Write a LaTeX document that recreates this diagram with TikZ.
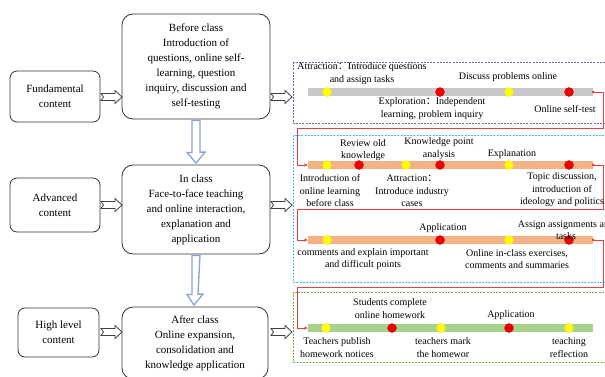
\documentclass[tikz,border=0pt]{standalone}
\usepackage{fontspec}
\setmainfont{Liberation Serif}
\newfontfamily\cjk{Noto Sans CJK SC}
\usetikzlibrary{arrows.meta,calc}
\definecolor{barGray}{HTML}{C8C8C8}
\definecolor{barOrange}{HTML}{F4B183}
\definecolor{barGreen}{HTML}{A9D18E}
\definecolor{dotYellow}{HTML}{FFFF00}
\definecolor{dotRed}{HTML}{F00000}
\definecolor{lineRed}{HTML}{E04040}
\definecolor{boxPurple}{HTML}{7F5FB0}
\definecolor{boxBlue}{HTML}{40B8E8}
\definecolor{boxGreen}{HTML}{70AD47}
\definecolor{downBlue}{HTML}{8EA2D0}
\newcommand{\fc}{{\cjk ：}}
\begin{document}
\begin{tikzpicture}[x=1pt,y=-1pt,
  lbox/.style={draw=black!80, line width=0.8pt, rounded corners=7pt, align=center,
    font=\fontsize{11}{15}\selectfont, inner sep=0pt},
  mbox/.style={draw=black!80, line width=0.8pt, rounded corners=11pt, align=center,
    font=\fontsize{11}{15}\selectfont, inner sep=0pt},
  dbox/.style={draw=#1, line width=0.7pt, dash pattern=on 2pt off 1.2pt},
  bar/.style={fill=#1, draw=none, minimum width=285pt, minimum height=8pt, inner sep=0pt},
  ydot/.style={circle, fill=dotYellow, draw=dotYellow!85!orange, line width=0.3pt, minimum size=9pt, inner sep=0pt},
  rdot/.style={circle, fill=dotRed, draw=dotRed!85!black, line width=0.3pt, minimum size=9pt, inner sep=0pt},
  edot/.style={circle, fill=lineRed, minimum size=3pt, inner sep=0pt},
  redline/.style={draw=lineRed, line width=0.8pt},
  lbl/.style={align=center, font=\fontsize{10}{12.5}\selectfont, inner sep=0pt},
  harrow/.pic={\draw[draw=black!75, fill=white, line width=0.8pt]
     (0,-3.5) -- (14,-3.5) -- (14,-6.5) -- (21,0) -- (14,6.5) -- (14,3.5) -- (0,3.5) -- (2.5,0) -- cycle;}
]
\useasboundingbox (0,0) rectangle (605,376);

% left boxes
\node[lbox, minimum width=90pt, minimum height=51pt] (fund) at (55,96.5) {Fundamental\\content};
\node[lbox, minimum width=90pt, minimum height=54pt] (adv) at (55,205) {Advanced\\content};
\node[lbox, minimum width=81pt, minimum height=49pt] (high) at (58.5,332.5) {High level\\content};

% middle boxes
\node[mbox, minimum width=148pt, minimum height=105pt] (before) at (196,66.5)
  {Before class\\Introduction of\\questions, online self-\\learning, question\\inquiry, discussion and\\self-testing};
\node[mbox, minimum width=148pt, minimum height=89pt] (inclass) at (196,209.5)
  {In class\\Face-to-face teaching\\and online interaction,\\explanation and\\application};
\node[mbox, minimum width=146pt, minimum height=72pt] (after) at (195,343)
  {After class\\Online expansion,\\consolidation and\\knowledge application};

% hollow arrows
\pic at (101,97) {harrow};
\pic at (101,205) {harrow};
\pic at (101,332) {harrow};
\pic at (271,97) {harrow};
\pic at (271,205) {harrow};
\pic at (271,332) {harrow};

% down arrows
\draw[draw=downBlue, fill=white, line width=1.3pt]
  ($(before.south)+(-4,1)$) -- ++(0,32) -- ++(-5,0) -- ($(inclass.north)+(0,-1.5)$)
  -- ++(9,-11) -- ++(-5,0) -- ($(before.south)+(4,1)$) -- cycle;
\draw[draw=downBlue, fill=white, line width=1.3pt]
  ($(inclass.south)+(-4,1)$) -- ++(0,39) -- ++(-5,0) -- ($(after.north)+(-1,-1.5)$)
  -- ++(9,-11) -- ++(-5,0) -- ($(inclass.south)+(4,1)$) -- cycle;

% dashed frames
\draw[dbox=boxPurple] (293,62) rectangle (612,123);
\draw[dbox=boxBlue] (293,135) rectangle (612,282);
\draw[dbox=boxGreen] (293,292) rectangle (612,362);

% bars
\node[bar=barGray] (b1) at (450.5,92) {};
\node[bar=barOrange] (b2) at (450.5,165) {};
\node[bar=barOrange] (b3) at (450.5,240) {};
\node[bar=barGreen] (b4) at (450.5,328) {};

% red connectors
\coordinate (t1) at (603,128); \coordinate (u1) at (297,128);
\coordinate (t2) at (603,209); \coordinate (u2) at (297,209);
\coordinate (t3) at (603,287); \coordinate (u3) at (297,287);
\draw[redline, -{Stealth[length=4pt,width=3.5pt]}] (b1.east) -| (t1) -- (u1) |- (b2.west);
\draw[redline, -{Stealth[length=4pt,width=3.5pt]}] (b2.east) -| (t2) -- (u2) |- (b3.west);
\draw[redline, -{Stealth[length=4pt,width=3.5pt]}] (b3.east) -| (t3) -- (u3) |- (b4.west);
\node[edot] (e1) at (b1.east) {};
\node[edot] (e2) at (b2.east) {};
\node[edot] (e3) at (b3.east) {};

% dots bar 1
\node[ydot] (d11) at (327,92) {};
\node[rdot] (d12) at (440,92) {};
\node[ydot] (d13) at (509,92) {};
\node[rdot] (d14) at (569,92) {};
% dots bar 2
\node[ydot] (d21) at (327,165) {};
\node[rdot] (d22) at (359,165) {};
\node[ydot] (d23) at (406,165) {};
\node[rdot] (d24) at (440,165) {};
\node[ydot] (d25) at (509,165) {};
\node[rdot] (d26) at (569,165) {};
% dots bar 3
\node[ydot] (d31) at (327,240) {};
\node[rdot] (d32) at (440,240) {};
\node[ydot] (d33) at (509,240) {};
\node[rdot] (d34) at (569,240) {};
% dots bar 4
\node[ydot] (d41) at (326,328) {};
\node[rdot] (d42) at (392,328) {};
\node[ydot] (d43) at (441,328) {};
\node[rdot] (d44) at (509,328) {};
\node[ydot] (d45) at (569,328) {};

% labels bar 1
\node[lbl] (l11) at (362,73.5) {Attraction\fc Introduce questions\\and assign tasks};
\node[lbl] (l12) at (508,77) {Discuss problems online};
\node[lbl] (l13) at (432,108.5) {Exploration\fc Independent\\learning, problem inquiry};
\node[lbl] (l14) at (565,109) {Online self-test};
% labels bar 2
\node[lbl] (l21) at (363,150) {Review old\\knowledge};
\node[lbl] (l22) at (439,148.5) {Knowledge point\\analysis};
\node[lbl] (l23) at (512,154) {Explanation};
\node[lbl] (l24) at (330,191) {Introduction of\\online learning\\before class};
\node[lbl] (l25) at (412,191) {Attraction\fc\\Introduce industry\\cases};
\node[lbl] (l26) at (562,190) {Topic discussion,\\introduction of\\ideology and politics};
% labels bar 3
\node[lbl] (l31) at (443,228) {Application};
\node[lbl] (l32) at (566,230) {Assign assignments and\\tasks};
\node[lbl] (l33) at (363,259) {comments and explain important\\and difficult points};
\node[lbl] (l34) at (517,259) {Online in-class exercises,\\comments and summaries};
% labels bar 4
\node[lbl] (l41) at (390,308.5) {Students complete\\online homework};
\node[lbl] (l42) at (511,315) {Application};
\node[lbl] (l43) at (337,347.5) {Teachers publish\\homework notices};
\node[lbl] (l44) at (443,347.5) {teachers mark\\the homewor};
\node[lbl] (l45) at (569,347.5) {teaching\\reflection};
\end{tikzpicture}
\end{document}
